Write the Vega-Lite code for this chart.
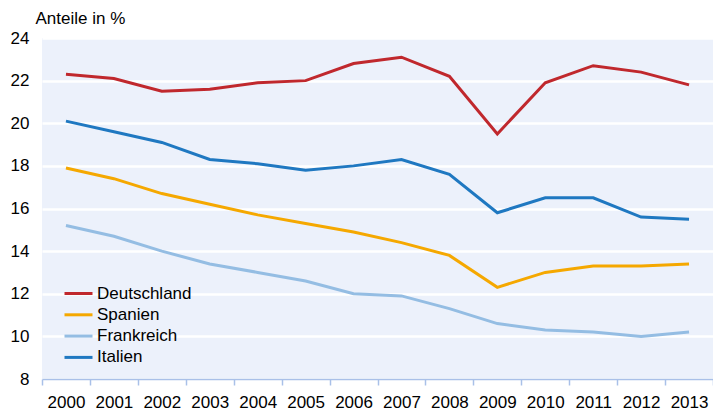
{
  "$schema": "https://vega.github.io/schema/vega-lite/v6.json",
  "width": 671,
  "height": 341,
  "autosize": "none",
  "padding": {"left": 42, "top": 38, "right": 0, "bottom": 33},
  "background": "white",
  "config": {
    "font": "Liberation Sans",
    "view": {"fill": "#ecf1fb", "stroke": null}
  },
  "data": {
    "values": [
      {"Jahr": "2000", "Land": "Deutschland", "Wert": 22.3},
      {"Jahr": "2001", "Land": "Deutschland", "Wert": 22.1},
      {"Jahr": "2002", "Land": "Deutschland", "Wert": 21.5},
      {"Jahr": "2003", "Land": "Deutschland", "Wert": 21.6},
      {"Jahr": "2004", "Land": "Deutschland", "Wert": 21.9},
      {"Jahr": "2005", "Land": "Deutschland", "Wert": 22.0},
      {"Jahr": "2006", "Land": "Deutschland", "Wert": 22.8},
      {"Jahr": "2007", "Land": "Deutschland", "Wert": 23.1},
      {"Jahr": "2008", "Land": "Deutschland", "Wert": 22.2},
      {"Jahr": "2009", "Land": "Deutschland", "Wert": 19.5},
      {"Jahr": "2010", "Land": "Deutschland", "Wert": 21.9},
      {"Jahr": "2011", "Land": "Deutschland", "Wert": 22.7},
      {"Jahr": "2012", "Land": "Deutschland", "Wert": 22.4},
      {"Jahr": "2013", "Land": "Deutschland", "Wert": 21.8},
      {"Jahr": "2000", "Land": "Italien", "Wert": 20.1},
      {"Jahr": "2001", "Land": "Italien", "Wert": 19.6},
      {"Jahr": "2002", "Land": "Italien", "Wert": 19.1},
      {"Jahr": "2003", "Land": "Italien", "Wert": 18.3},
      {"Jahr": "2004", "Land": "Italien", "Wert": 18.1},
      {"Jahr": "2005", "Land": "Italien", "Wert": 17.8},
      {"Jahr": "2006", "Land": "Italien", "Wert": 18.0},
      {"Jahr": "2007", "Land": "Italien", "Wert": 18.3},
      {"Jahr": "2008", "Land": "Italien", "Wert": 17.6},
      {"Jahr": "2009", "Land": "Italien", "Wert": 15.8},
      {"Jahr": "2010", "Land": "Italien", "Wert": 16.5},
      {"Jahr": "2011", "Land": "Italien", "Wert": 16.5},
      {"Jahr": "2012", "Land": "Italien", "Wert": 15.6},
      {"Jahr": "2013", "Land": "Italien", "Wert": 15.5},
      {"Jahr": "2000", "Land": "Spanien", "Wert": 17.9},
      {"Jahr": "2001", "Land": "Spanien", "Wert": 17.4},
      {"Jahr": "2002", "Land": "Spanien", "Wert": 16.7},
      {"Jahr": "2003", "Land": "Spanien", "Wert": 16.2},
      {"Jahr": "2004", "Land": "Spanien", "Wert": 15.7},
      {"Jahr": "2005", "Land": "Spanien", "Wert": 15.3},
      {"Jahr": "2006", "Land": "Spanien", "Wert": 14.9},
      {"Jahr": "2007", "Land": "Spanien", "Wert": 14.4},
      {"Jahr": "2008", "Land": "Spanien", "Wert": 13.8},
      {"Jahr": "2009", "Land": "Spanien", "Wert": 12.3},
      {"Jahr": "2010", "Land": "Spanien", "Wert": 13.0},
      {"Jahr": "2011", "Land": "Spanien", "Wert": 13.3},
      {"Jahr": "2012", "Land": "Spanien", "Wert": 13.3},
      {"Jahr": "2013", "Land": "Spanien", "Wert": 13.4},
      {"Jahr": "2000", "Land": "Frankreich", "Wert": 15.2},
      {"Jahr": "2001", "Land": "Frankreich", "Wert": 14.7},
      {"Jahr": "2002", "Land": "Frankreich", "Wert": 14.0},
      {"Jahr": "2003", "Land": "Frankreich", "Wert": 13.4},
      {"Jahr": "2004", "Land": "Frankreich", "Wert": 13.0},
      {"Jahr": "2005", "Land": "Frankreich", "Wert": 12.6},
      {"Jahr": "2006", "Land": "Frankreich", "Wert": 12.0},
      {"Jahr": "2007", "Land": "Frankreich", "Wert": 11.9},
      {"Jahr": "2008", "Land": "Frankreich", "Wert": 11.3},
      {"Jahr": "2009", "Land": "Frankreich", "Wert": 10.6},
      {"Jahr": "2010", "Land": "Frankreich", "Wert": 10.3},
      {"Jahr": "2011", "Land": "Frankreich", "Wert": 10.2},
      {"Jahr": "2012", "Land": "Frankreich", "Wert": 10.0},
      {"Jahr": "2013", "Land": "Frankreich", "Wert": 10.2}
    ]
  },
  "mark": {"type": "line", "strokeWidth": 3, "strokeJoin": "miter"},
  "encoding": {
    "x": {
      "field": "Jahr",
      "type": "ordinal",
      "scale": {"type": "band", "paddingInner": 0, "paddingOuter": 0},
      "axis": {
        "title": null,
        "labelAngle": 0,
        "labelFontSize": 17,
        "labelColor": "#000000",
        "labelPadding": 9,
        "domainColor": "#a9c0e8",
        "domainWidth": 1.5,
        "tickColor": "#a9c0e8",
        "tickWidth": 1.5,
        "tickSize": 6,
        "tickBand": "extent",
        "grid": false
      }
    },
    "y": {
      "field": "Wert",
      "type": "quantitative",
      "scale": {"domain": [8, 24], "nice": false, "zero": false},
      "axis": {
        "values": [8, 10, 12, 14, 16, 18, 20, 22, 24],
        "title": "Anteile in %",
        "titleAngle": 0,
        "titleAlign": "left",
        "titleBaseline": "alphabetic",
        "titleX": -7,
        "titleY": -15,
        "titleFontSize": 17,
        "titleFontWeight": "normal",
        "titleColor": "#000000",
        "labelFontSize": 17,
        "labelColor": "#000000",
        "labelPadding": 13,
        "domain": false,
        "ticks": false,
        "gridColor": "#ffffff",
        "gridWidth": 2.5,
        "gridOpacity": 1
      }
    },
    "color": {
      "field": "Land",
      "type": "nominal",
      "scale": {
        "domain": ["Deutschland", "Spanien", "Frankreich", "Italien"],
        "range": ["#c0282d", "#f5a800", "#94bde3", "#1f78c1"]
      },
      "legend": {
        "title": null,
        "orient": "none",
        "legendX": 25,
        "legendY": 244,
        "symbolType": "M-1.4,0H1.4",
        "symbolSize": 400,
        "symbolStrokeWidth": 3,
        "labelFontSize": 17,
        "labelColor": "#000000",
        "labelOffset": 7,
        "rowPadding": 1.3
      }
    }
  }
}
